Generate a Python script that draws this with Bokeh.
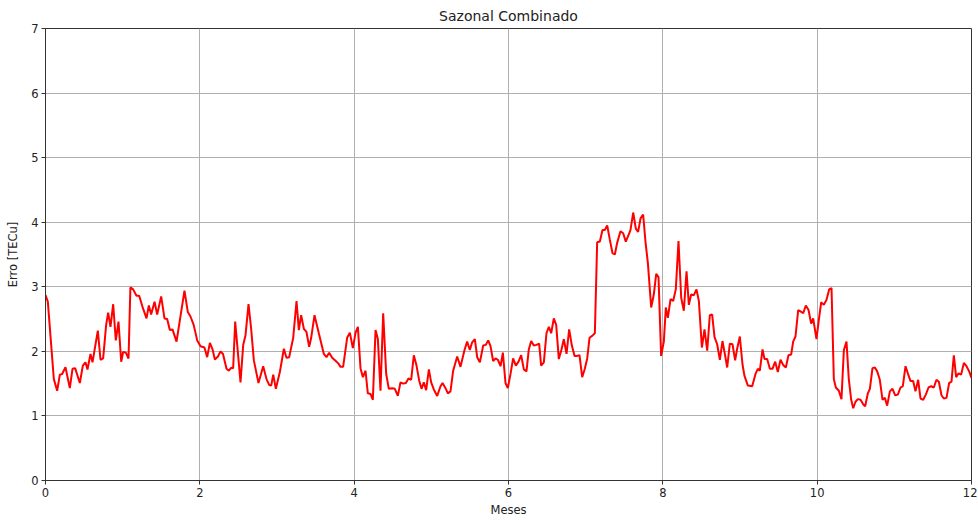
from bokeh.plotting import figure
from bokeh.models import Range1d, FixedTicker
from bokeh.embed import file_html
from bokeh.resources import INLINE

months = [0.0, 0.03, 0.108, 0.151, 0.186, 0.216, 0.259, 0.315, 0.35, 0.384, 0.445, 0.484, 0.518, 0.544, 0.583, 0.609,
          0.678, 0.713, 0.747, 0.786, 0.812, 0.842, 0.877, 0.911, 0.946, 0.981, 1.006, 1.041, 1.076, 1.10, 1.136, 1.179,
          1.214, 1.257, 1.309, 1.339, 1.369, 1.413, 1.447, 1.499, 1.542, 1.577, 1.611, 1.646, 1.698, 1.801, 1.844, 1.879,
          1.92, 1.966, 2.009, 2.06, 2.095, 2.13, 2.165, 2.195, 2.235, 2.268, 2.30, 2.346, 2.376, 2.406, 2.432, 2.458,
          2.527, 2.562, 2.592, 2.631, 2.665, 2.70, 2.76, 2.821, 2.864, 2.899, 2.925, 2.951, 2.985, 3.037, 3.089, 3.123,
          3.158, 3.21, 3.253, 3.283, 3.313, 3.348, 3.382, 3.417, 3.443, 3.486, 3.542, 3.607, 3.641, 3.676, 3.715, 3.762,
          3.797, 3.823, 3.857, 3.909, 3.944, 3.983, 4.018, 4.048, 4.082, 4.113, 4.147, 4.177, 4.212, 4.242, 4.277, 4.307,
          4.341, 4.376, 4.415, 4.449, 4.492, 4.527, 4.566, 4.6, 4.635, 4.67, 4.704, 4.739, 4.773, 4.808, 4.842, 4.873,
          4.903, 4.933, 4.968, 4.998, 5.032, 5.076, 5.119, 5.145, 5.184, 5.214, 5.248, 5.283, 5.335, 5.378, 5.43, 5.464,
          5.499, 5.529, 5.564, 5.594, 5.629, 5.672, 5.706, 5.737, 5.767, 5.801, 5.832, 5.862, 5.897, 5.927, 5.961, 5.991,
          6.026, 6.06, 6.095, 6.13, 6.164, 6.199, 6.233, 6.263, 6.294, 6.328, 6.363, 6.397, 6.423, 6.458, 6.492, 6.523,
          6.553, 6.587, 6.618, 6.652, 6.687, 6.717, 6.752, 6.786, 6.821, 6.856, 6.89, 6.92, 6.955, 6.989, 7.02, 7.05,
          7.084, 7.119, 7.149, 7.184, 7.218, 7.248, 7.279, 7.313, 7.348, 7.378, 7.408, 7.451, 7.486, 7.52, 7.559, 7.581,
          7.616, 7.65, 7.68, 7.711, 7.745, 7.775, 7.806, 7.849, 7.883, 7.914, 7.944, 7.978, 8.013, 8.039, 8.065, 8.1,
          8.134, 8.168, 8.203, 8.238, 8.272, 8.307, 8.337, 8.367, 8.402, 8.436, 8.467, 8.506, 8.54, 8.575, 8.609, 8.639,
          8.67, 8.704, 8.739, 8.773, 8.808, 8.834, 8.868, 8.903, 8.937, 8.963, 8.998, 9.032, 9.058, 9.102, 9.158, 9.201,
          9.231, 9.257, 9.292, 9.318, 9.352, 9.387, 9.421, 9.456, 9.49, 9.525, 9.559, 9.594, 9.628, 9.663, 9.689, 9.719,
          9.754, 9.784, 9.819, 9.853, 9.888, 9.922, 9.948, 9.991, 10.022, 10.052, 10.086, 10.121, 10.156, 10.186, 10.216,
          10.242, 10.281, 10.315, 10.346, 10.38, 10.41, 10.441, 10.467, 10.497, 10.527, 10.562, 10.596, 10.622, 10.657,
          10.683, 10.717, 10.748, 10.778, 10.812, 10.847, 10.877, 10.907, 10.942, 10.976, 11.011, 11.045, 11.08, 11.11,
          11.145, 11.175, 11.21, 11.244, 11.274, 11.309, 11.339, 11.374, 11.408, 11.443, 11.477, 11.512, 11.546, 11.577,
          11.611, 11.641, 11.676, 11.71, 11.741, 11.771, 11.801, 11.832, 11.866, 11.901, 11.935, 11.97, 12.0]

erro = [2.87, 2.77, 1.57, 1.39, 1.64, 1.65, 1.755, 1.43, 1.73, 1.74, 1.51, 1.78, 1.83, 1.72, 1.96, 1.83,
        2.32, 1.87, 1.89, 2.41, 2.60, 2.38, 2.73, 2.17, 2.46, 1.84, 1.99, 1.98, 1.89, 2.99, 2.96, 2.86,
        2.86, 2.69, 2.51, 2.71, 2.57, 2.77, 2.57, 2.85, 2.51, 2.50, 2.33, 2.34, 2.15, 2.94, 2.61, 2.54,
        2.41, 2.17, 2.08, 2.06, 1.91, 2.13, 2.03, 1.875, 1.92, 2.0, 1.96, 1.73, 1.70, 1.745, 1.74, 2.46,
        1.52, 2.10, 2.25, 2.73, 2.35, 1.86, 1.51, 1.77, 1.57, 1.48, 1.47, 1.64, 1.42, 1.68, 2.04, 1.90,
        1.91, 2.21, 2.78, 2.33, 2.56, 2.35, 2.30, 2.07, 2.21, 2.56, 2.28, 1.96, 1.91, 1.98, 1.90, 1.85,
        1.81, 1.76, 1.76, 2.21, 2.29, 2.05, 2.29, 2.38, 1.74, 1.60, 1.70, 1.35, 1.34, 1.25, 2.33, 2.19,
        1.39, 2.59, 1.65, 1.42, 1.43, 1.42, 1.31, 1.52, 1.50, 1.51, 1.58, 1.56, 1.94, 1.78, 1.55, 1.42,
        1.52, 1.40, 1.72, 1.52, 1.41, 1.31, 1.46, 1.51, 1.43, 1.35, 1.38, 1.70, 1.92, 1.76, 2.02, 2.15,
        2.02, 2.14, 2.19, 1.91, 1.83, 2.09, 2.10, 2.17, 2.08, 1.85, 1.89, 1.87, 1.77, 1.98, 1.51, 1.43,
        1.65, 1.89, 1.78, 1.84, 1.94, 1.72, 1.69, 2.03, 2.16, 2.09, 2.10, 2.12, 1.78, 1.83, 2.28, 2.38,
        2.28, 2.51, 2.41, 1.88, 2.03, 2.19, 1.96, 2.34, 2.09, 1.93, 1.93, 1.94, 1.60, 1.73, 1.89, 2.21,
        2.24, 2.28, 3.69, 3.70, 3.88, 3.88, 3.95, 3.73, 3.52, 3.50, 3.68, 3.86, 3.83, 3.70, 3.81, 3.88,
        4.15, 3.90, 3.85, 4.06, 4.12, 3.70, 3.37, 2.68, 2.88, 3.20, 3.15, 1.93, 2.15, 2.68, 2.52, 2.81,
        2.78, 2.96, 3.71, 2.83, 2.63, 3.24, 2.72, 2.88, 2.87, 2.96, 2.78, 2.06, 2.34, 2.01, 2.56, 2.57,
        2.22, 2.11, 1.87, 2.16, 1.93, 1.75, 2.12, 2.11, 1.86, 2.04, 2.23, 1.80, 1.62, 1.47, 1.46, 1.65,
        1.73, 1.70, 2.03, 1.88, 1.88, 1.73, 1.73, 1.84, 1.68, 1.87, 1.79, 1.75, 1.94, 1.95, 2.15, 2.23,
        2.64, 2.62, 2.59, 2.71, 2.64, 2.43, 2.51, 2.19, 2.49, 2.76, 2.72, 2.80, 2.96, 2.98, 1.57,
        1.44, 1.39, 1.26, 2.02, 2.15, 1.57, 1.25, 1.12, 1.22, 1.26, 1.25, 1.18, 1.15, 1.35,
        1.42, 1.74, 1.75, 1.69, 1.56, 1.25, 1.28, 1.16, 1.38, 1.42, 1.32, 1.33, 1.44, 1.46,
        1.77, 1.66, 1.54, 1.54, 1.38, 1.56, 1.27, 1.25, 1.33, 1.44, 1.46, 1.44, 1.56, 1.53,
        1.32, 1.27, 1.28, 1.51, 1.53, 1.94, 1.60, 1.66, 1.64, 1.82, 1.77, 1.69, 1.59]

x_ticks = [0, 2, 4, 6, 8, 10, 12]
y_ticks = [0, 1, 2, 3, 4, 5, 6, 7]

FONT = "DejaVu Sans"

p = figure(frame_width=926, frame_height=452, output_backend="svg", toolbar_location=None,
           x_range=Range1d(0, 12), y_range=Range1d(0, 7),
           title="Sazonal Combinado",
           min_border_left=45, min_border_right=6, min_border_top=0, min_border_bottom=0)

p.title.align = "center"
p.title.text_font = FONT
p.title.text_font_size = "14px"
p.title.text_font_style = "normal"
p.title.text_color = "#222222"

p.line(months, erro, line_color="#ff0000", line_width=2)

for ax, ticks, lab in ((p.xaxis[0], x_ticks, "Meses"), (p.yaxis[0], y_ticks, "Erro [TECu]")):
    ax.ticker = FixedTicker(ticks=ticks)
    ax.axis_label = lab
    ax.axis_label_text_font = FONT
    ax.axis_label_text_font_size = "11.5px"
    ax.axis_label_text_font_style = "normal"
    ax.axis_label_text_color = "#222222"
    ax.major_label_text_font = FONT
    ax.major_label_text_font_size = "11.5px"
    ax.major_label_text_color = "#222222"
    ax.minor_tick_line_color = None
    ax.major_tick_out = 4
    ax.major_tick_in = 0
    ax.major_tick_line_color = "#333333"
    ax.axis_line_color = "#333333"
    ax.major_label_standoff = 3
    ax.axis_label_standoff = 3

p.yaxis[0].axis_label_standoff = 8

p.grid.grid_line_color = "#b0b0b0"
p.grid.grid_line_width = 1
p.outline_line_color = "#333333"
p.outline_line_width = 1
p.outline_line_alpha = 1

open("out.html", "w").write(file_html(p, INLINE))
